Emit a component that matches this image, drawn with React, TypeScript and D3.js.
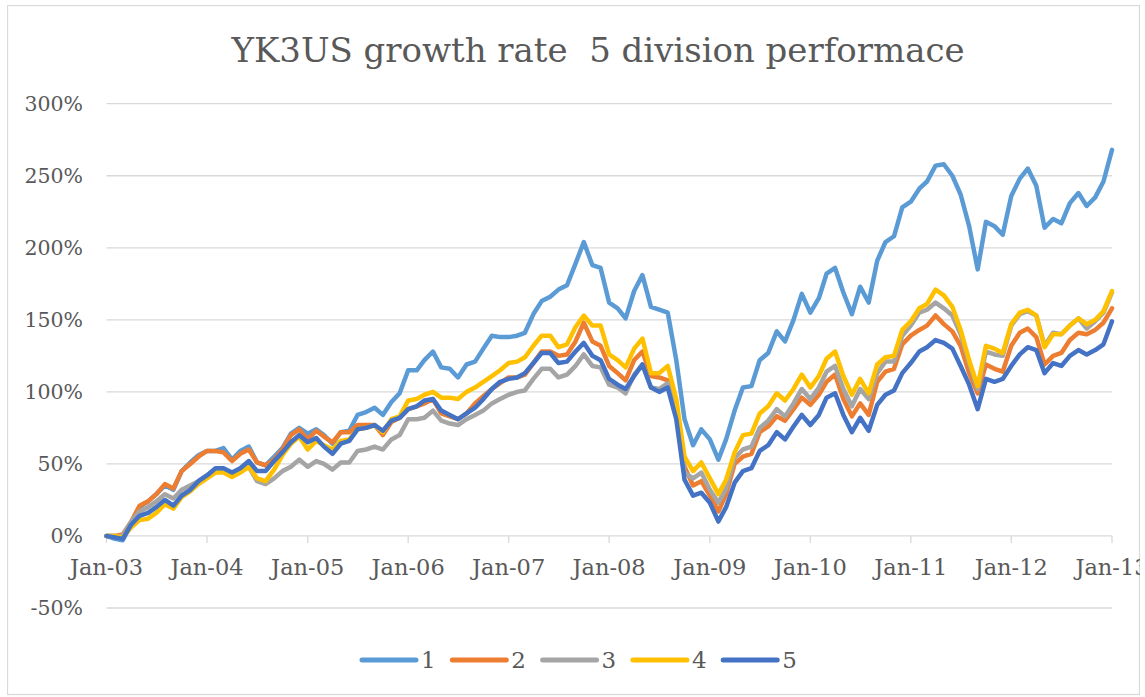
import React, { useEffect, useRef } from 'react'
import * as d3 from 'd3'

// monthly series, Jan-03 .. Jan-13 (121 points), growth in %
const s1 = [
  0, -2, -3, 8, 20, 24, 29, 35, 32, 45,
  51, 56, 59, 59, 61, 53, 59, 62, 51, 49,
  55, 61, 71, 75, 71, 74, 70, 64, 72, 73,
  84, 86, 89, 84, 93, 99, 115, 115, 122, 128,
  117, 116, 110, 119, 121, 130, 139, 138, 138, 139,
  141, 154, 163, 166, 171, 174, 189, 204, 188, 186,
  162, 158, 151, 170, 181, 159, 157, 155, 122, 81,
  63, 74, 67, 53, 67, 87, 103, 104, 122, 127,
  142, 135, 150, 168, 155, 165, 182, 186, 169, 154,
  173, 162, 191, 204, 208, 228, 232, 241, 246, 257,
  258, 250, 237, 215, 185, 218, 215, 209, 236, 248,
  255, 243, 214, 220, 217, 231, 238, 229, 235, 246,
  268,
]
const s2 = [
  0, 0, 1, 10, 21, 24, 29, 36, 33, 45,
  50, 55, 59, 59, 58, 52, 57, 60, 51, 49,
  53, 60, 70, 74, 67, 73, 69, 65, 72, 72,
  77, 77, 77, 70, 79, 82, 88, 90, 92, 95,
  85, 83, 81, 85, 92, 97, 102, 106, 110, 110,
  112, 120, 128, 128, 125, 126, 135, 148, 135, 132,
  118, 113, 108, 122, 128, 111, 110, 108, 90, 48,
  35, 38, 28, 17, 29, 50, 55, 57, 72, 76,
  83, 80, 88, 96, 91, 98, 107, 112, 95, 83,
  92, 84, 107, 114, 116, 133, 139, 143, 146, 153,
  147, 142, 132, 113, 99, 119, 116, 114, 132, 141,
  144, 138, 119, 125, 127, 136, 141, 140, 143, 148,
  158,
]
const s3 = [
  0, 0, 0, 10, 17, 20, 24, 29, 26, 32,
  35, 38, 42, 46, 45, 42, 45, 48, 38, 36,
  40, 45, 48, 53, 48, 52, 50, 46, 51, 51,
  59, 60, 62, 60, 67, 70, 81, 81, 82, 87,
  80, 78, 77, 81, 84, 87, 92, 95, 98, 100,
  101, 109, 116, 116, 110, 112, 118, 126, 118, 117,
  105, 103, 99, 112, 119, 103, 102, 106, 88, 44,
  40, 44, 32, 23, 33, 54, 60, 62, 75, 80,
  88, 83, 92, 102, 95, 103, 114, 118, 102, 90,
  102, 95, 113, 121, 121, 139, 146, 155, 157, 162,
  158, 153, 140, 120, 102, 128, 126, 125, 146, 154,
  156, 153, 132, 141, 140, 146, 151, 144, 149, 155,
  169,
]
const s4 = [
  0, 0, -1, 6, 11, 12, 16, 22, 19, 27,
  31, 36, 40, 44, 44, 41, 44, 48, 40, 38,
  46, 56, 64, 69, 60, 66, 63, 60, 66, 67,
  74, 75, 77, 72, 81, 83, 94, 95, 98, 100,
  96, 96, 95, 100, 103, 107, 111, 115, 120, 121,
  124, 132, 139, 139, 131, 133, 145, 153, 146, 146,
  126, 122, 117, 130, 137, 113, 113, 118, 95, 55,
  45, 51, 40, 29, 39, 58, 70, 71, 85, 90,
  99, 94, 102, 112, 103, 111, 123, 128, 111, 98,
  109, 99, 119, 124, 125, 143, 149, 158, 161, 171,
  167, 159, 143, 122, 104, 132, 130, 127, 147, 155,
  157, 153, 131, 140, 140, 146, 151, 147, 150, 156,
  170,
]
const s5 = [
  0, -1, -2, 8, 14, 16, 20, 25, 21, 28,
  32, 38, 42, 47, 47, 44, 47, 52, 45, 45,
  52, 58, 65, 70, 65, 68, 62, 57, 64, 66,
  74, 75, 77, 73, 80, 82, 88, 90, 94, 95,
  87, 84, 81, 85, 89, 95, 102, 107, 109, 110,
  113, 120, 127, 127, 120, 121, 128, 134, 125, 122,
  109, 105, 102, 111, 119, 103, 100, 103, 81, 39,
  28, 30, 23, 10, 20, 37, 45, 47, 59, 63,
  72, 67, 76, 84, 77, 84, 96, 99, 84, 72,
  82, 73, 91, 98, 101, 113, 120, 128, 131, 136,
  134, 130, 118, 105, 88, 109, 107, 109, 118, 126,
  131, 129, 113, 120, 118, 125, 129, 126, 129, 133,
  149,
]

const seriesNames = ['1', '2', '3', '4', '5']
const seriesColors = ['#5B9BD5', '#ED7D31', '#A5A5A5', '#FFC000', '#4472C4']
const yTicks = [-50, 0, 50, 100, 150, 200, 250, 300]
const months = d3.timeMonth.range(new Date(2003, 0, 1), new Date(2013, 1, 1))
const yearTicks = d3.timeYear.range(new Date(2003, 0, 1), new Date(2013, 1, 1))

const FONT = '"DejaVu Serif", serif'
const TEXT = '#595959'
const GRID = '#d9d9d9'

const App: React.FC = () => {
  const ref = useRef<SVGSVGElement>(null)

  useEffect(() => {
    const W = 1145
    const H = 697
    const svg = d3.select(ref.current).attr('width', W).attr('height', H)
    svg.selectAll('*').remove()

    svg
      .append('defs')
      .append('clipPath')
      .attr('id', 'chartClip')
      .append('rect')
      .attr('x', 7)
      .attr('y', 5)
      .attr('width', 1133)
      .attr('height', 692)

    const root = svg.append('g').attr('clip-path', 'url(#chartClip)')

    root
      .append('rect')
      .attr('x', 7.5)
      .attr('y', 5.5)
      .attr('width', 1132)
      .attr('height', 689)
      .attr('fill', '#fff')
      .attr('stroke', GRID)
      .attr('stroke-width', 1.3)

    const x = d3
      .scaleTime()
      .domain([new Date(2003, 0, 1), new Date(2013, 0, 1)])
      .range([106.5, 1112])
    const y = d3.scaleLinear().domain([-50, 300]).range([608, 103.7])

    // title
    root
      .append('text')
      .attr('x', 598)
      .attr('y', 62)
      .attr('text-anchor', 'middle')
      .attr('font-family', FONT)
      .attr('font-size', 34)
      .attr('textLength', 733)
      .attr('lengthAdjust', 'spacingAndGlyphs')
      .attr('fill', TEXT)
      .text('YK3US growth rate\u00a0 5 division performace')

    // gridlines
    root
      .append('g')
      .selectAll('line')
      .data(yTicks)
      .enter()
      .append('line')
      .attr('x1', x.range()[0])
      .attr('x2', x.range()[1])
      .attr('y1', (d) => y(d))
      .attr('y2', (d) => y(d))
      .attr('stroke', GRID)
      .attr('stroke-width', 1.3)

    root
      .append('g')
      .selectAll('text')
      .data(yTicks)
      .enter()
      .append('text')
      .attr('x', 83)
      .attr('y', (d) => y(d))
      .attr('dy', '0.36em')
      .attr('text-anchor', 'end')
      .attr('font-family', FONT)
      .attr('font-size', 20.5)
      .attr('fill', TEXT)
      .text((d) => `${d}%`)

    // x axis ticks on the 0% line
    const xa = root.append('g')
    xa.selectAll('line')
      .data(yearTicks)
      .enter()
      .append('line')
      .attr('x1', (d) => x(d))
      .attr('x2', (d) => x(d))
      .attr('y1', y(0))
      .attr('y2', y(0) + 7)
      .attr('stroke', GRID)
      .attr('stroke-width', 1.3)

    xa.selectAll('text')
      .data(yearTicks)
      .enter()
      .append('text')
      .attr('x', (d) => x(d))
      .attr('y', 575)
      .attr('text-anchor', 'middle')
      .attr('font-family', FONT)
      .attr('font-size', 22.5)
      .attr('fill', TEXT)
      .text((d) => d3.timeFormat('%b-%y')(d))

    // lines
    const series = [s1, s2, s3, s4, s5]
    const line = d3
      .line<number>()
      .x((_, i) => x(months[i]))
      .y((d) => y(d))

    root
      .append('g')
      .selectAll('path')
      .data(series)
      .enter()
      .append('path')
      .attr('d', (d) => line(d))
      .attr('fill', 'none')
      .attr('stroke', (_, i) => seriesColors[i])
      .attr('stroke-width', 4.5)
      .attr('stroke-linejoin', 'round')
      .attr('stroke-linecap', 'round')

    // legend
    const lg = root
      .append('g')
      .selectAll('g')
      .data(seriesNames)
      .enter()
      .append('g')
      .attr('transform', (_, i) => `translate(${362 + i * 90.3},660)`)

    lg.append('line')
      .attr('x1', 0)
      .attr('x2', 54)
      .attr('stroke', (_, i) => seriesColors[i])
      .attr('stroke-width', 5)
      .attr('stroke-linecap', 'round')

    lg.append('text')
      .attr('x', 59)
      .attr('y', 8)
      .attr('font-family', FONT)
      .attr('font-size', 23)
      .attr('fill', TEXT)
      .text((d) => d)
  }, [])

  return (
    <div style={{ position: 'absolute', left: 0, top: 0 }}>
      <svg ref={ref} style={{ display: 'block' }} />
    </div>
  )
}

export default App
